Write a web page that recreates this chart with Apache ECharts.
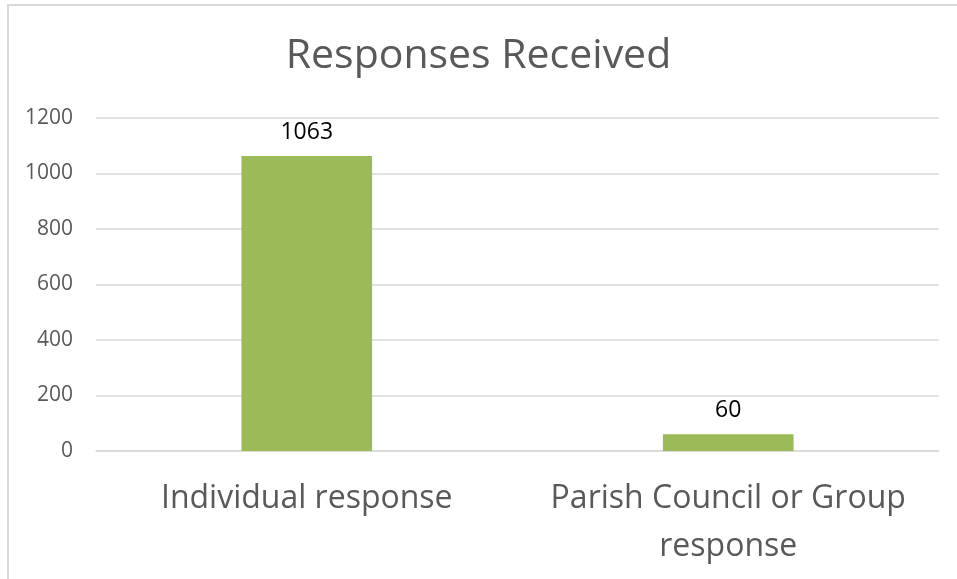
<!DOCTYPE html>
<html>
<head>
<meta charset="utf-8">
<script src="https://cdn.jsdelivr.net/npm/echarts@6/dist/echarts.min.js"></script>
<style>
  html, body { margin: 0; padding: 0; background: #fff; }
  #chart { width: 957px; height: 579px; }
</style>
</head>
<body>
<div id="chart"></div>
<script>
const categories = ['Individual response', 'Parish Council or Group\nresponse']
const responses = [1063, 60]
const yTicks = [0, 200, 400, 600, 800, 1000, 1200]

const chart = echarts.init(document.getElementById('chart'))
const font = '"Open Sans", "Noto Sans", sans-serif'

chart.setOption({
  animation: false,
  textStyle: { fontFamily: font },
  title: {
    text: 'Responses Received',
    left: 'center',
    top: 31,
    textStyle: { fontFamily: font, fontSize: 41, fontWeight: 'normal', color: '#595959' },
  },
  graphic: [
    {
      type: 'rect',
      shape: { x: 8, y: 5, width: 1000, height: 700 },
      style: { fill: 'none', stroke: '#d9d9d9', lineWidth: 2 },
      silent: true,
    },
  ],
  grid: { left: 96, right: 18, top: 118, bottom: 128, containLabel: false },
  xAxis: {
    type: 'category',
    data: categories,
    axisTick: { show: false },
    axisLine: { lineStyle: { color: '#d9d9d9', width: 1.5 } },
    axisLabel: {
      fontSize: 32,
      color: '#595959',
      margin: 24,
      lineHeight: 48,
      interval: 0,
    },
  },
  yAxis: {
    type: 'value',
    min: yTicks[0],
    max: yTicks[yTicks.length - 1],
    interval: 200,
    axisLine: { show: false },
    axisTick: { show: false },
    axisLabel: { fontSize: 21, color: '#595959', margin: 23, formatter: (v) => String(v) },
    splitLine: { lineStyle: { color: '#d9d9d9', width: 1.5 } },
  },
  series: [
    {
      type: 'bar',
      data: responses,
      barWidth: '31%',
      itemStyle: { color: '#9bbb59' },
      label: {
        show: true,
        position: 'top',
        distance: 12,
        fontSize: 23,
        color: '#000',
      },
    },
  ],
})
</script>
</body>
</html>
